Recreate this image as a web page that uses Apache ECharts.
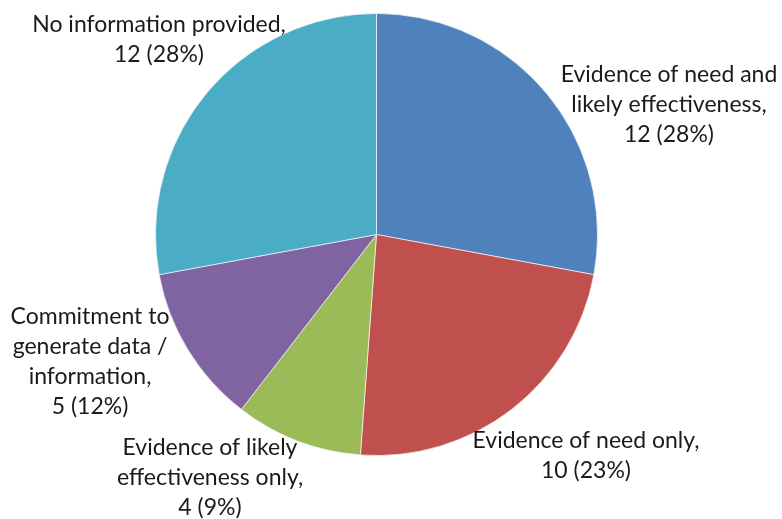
<!DOCTYPE html>
<html>
<head>
<meta charset="utf-8">
<script src="https://cdn.jsdelivr.net/npm/echarts@6/dist/echarts.min.js"></script>
<style>
  html, body { margin: 0; padding: 0; background: #fff; }
  #chart { width: 782px; height: 519px; }
</style>
</head>
<body>
<div id="chart"></div>
<script>
// Category names (with their line breaks) and counts, clockwise from 12 o'clock
const categories = [
  'Evidence of need and\nlikely effectiveness',
  'Evidence of need only',
  'Evidence of likely\neffectiveness only',
  'Commitment to\ngenerate data /\ninformation',
  'No information provided'
];
const counts = [12, 10, 4, 5, 12];
const colors = ['#4F81BD', '#C0504D', '#9BBB59', '#8064A2', '#4BACC6'];

// Where each data label block is centred
const labelSpots = [
  [669, 105],
  [586, 456],
  [210, 478],
  [90, 362],
  [159, 40]
];

const chart = echarts.init(document.getElementById('chart'), null, { renderer: 'canvas' });

chart.setOption({
  animation: false,
  backgroundColor: '#ffffff',
  series: [{
    type: 'pie',
    center: [376.5, 234.5],
    radius: 221,
    startAngle: 90,
    clockwise: true,
    avoidLabelOverlap: false,
    percentPrecision: 0,
    data: categories.map((name, i) => ({
      name: name,
      value: counts[i],
      itemStyle: { color: colors[i] }
    })),
    itemStyle: { borderColor: 'rgba(255,255,255,0.8)', borderWidth: 0.8 },
    label: {
      show: true,
      position: 'outside',
      formatter: p => p.name + ',\n' + p.value + ' (' + p.percent + '%)',
      fontFamily: 'Lato',
      fontSize: 23,
      lineHeight: 30,
      color: '#1a1a1a',
      align: 'center'
    },
    labelLine: { show: false },
    labelLayout: params => ({
      x: labelSpots[params.dataIndex][0],
      y: labelSpots[params.dataIndex][1],
      align: 'center',
      verticalAlign: 'middle'
    }),
    emphasis: { disabled: true }
  }]
});
</script>
</body>
</html>
